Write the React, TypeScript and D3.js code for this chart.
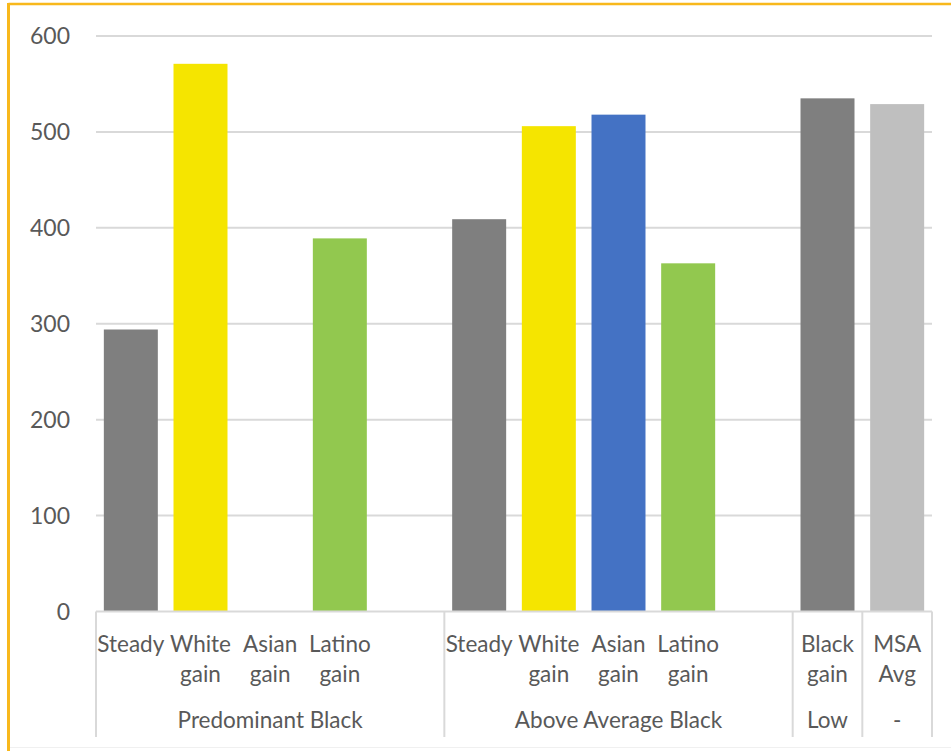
import React from "react";
import * as d3 from "d3";

const slots = ["PB-Steady", "PB-White", "PB-Asian", "PB-Latino", "PB-blank", "AAB-Steady", "AAB-White", "AAB-Asian", "AAB-Latino", "AAB-blank", "Low-Black", "MSA-Avg"];
const slotLabels: string[][] = [["Steady"], ["White", "gain"], ["Asian", "gain"], ["Latino", "gain"], [], ["Steady"], ["White", "gain"], ["Asian", "gain"], ["Latino", "gain"], [], ["Black", "gain"], ["MSA", "Avg"]];
const values: (number | null)[] = [294, 571, null, 389, null, 409, 506, 518, 363, null, 535, 529];
const barColors = ["#7f7f7f", "#f5e500", "#4472c4", "#92c84f", "#ffffff", "#7f7f7f", "#f5e500", "#4472c4", "#92c84f", "#ffffff", "#7f7f7f", "#bfbfbf"];
const groups = ["Predominant Black", "Above Average Black", "Low", "-"];
const groupSizes = [5, 5, 1, 1];
const yTicks = [0, 100, 200, 300, 400, 500, 600];

const W = 951, H = 751;
const x0 = 96, x1 = 932;
const yZero = 611.5, yTop = 36;
const FONT = "Lato, 'Open Sans', sans-serif";
const TEXT = "#595959";

export default function App() {
  const x = d3.scaleBand<string>().domain(slots).range([x0, x1]).paddingInner(0.225).paddingOuter(0.1125);
  const step = x.step();
  const y = d3.scaleLinear().domain([0, 600]).range([yZero, yTop]);

  const bounds: number[] = [x0];
  let acc = 0;
  groupSizes.forEach((g) => { acc += g; bounds.push(x0 + acc * step); });

  return (
    <svg width={W} height={H} style={{ position: "absolute", left: 0, top: 0, background: "#fff" }} fontFamily={FONT}>
      <rect x={0} y={0} width={W} height={H} fill="#fff" />
      <line x1={8.5} y1={4} x2={W} y2={4} stroke="#f8b81c" strokeWidth={2.5} />
      <line x1={8.5} y1={3} x2={8.5} y2={H} stroke="#f8b81c" strokeWidth={3} />
      <line x1={10} y1={747.5} x2={W} y2={747.5} stroke="#f0f0f0" strokeWidth={1} />
      {yTicks.map((t) => (
        <g key={t}>
          {t > 0 && <line x1={x0} x2={x1} y1={y(t)} y2={y(t)} stroke="#d9d9d9" strokeWidth={2} />}
          <text x={70} y={y(t)} dy="0.35em" textAnchor="end" fontSize={23} fill={TEXT}>{t}</text>
        </g>
      ))}
      {slots.map((s, i) => {
        const v = values[i];
        if (v == null) return null;
        return <rect key={s} x={x(s)} y={y(v)} width={x.bandwidth()} height={yZero - y(v)} fill={barColors[i]} />;
      })}
      <line x1={x0} x2={x1} y1={yZero} y2={yZero} stroke="#d9d9d9" strokeWidth={2} />
      {bounds.map((b, i) => (
        <line key={i} x1={b} x2={b} y1={yZero} y2={737} stroke="#d9d9d9" strokeWidth={2} />
      ))}
      {slots.map((s, i) => (
        <text key={s} x={(x(s) as number) + x.bandwidth() / 2} textAnchor="middle" fontSize={22.5} fill={TEXT}>
          {slotLabels[i].map((l, j) => (
            <tspan key={j} x={(x(s) as number) + x.bandwidth() / 2} y={652 + j * 29.5}>{l}</tspan>
          ))}
        </text>
      ))}
      {groups.map((g, i) => (
        <text key={g} x={(bounds[i] + bounds[i + 1]) / 2} y={728} textAnchor="middle" fontSize={22.5} fill={TEXT}>{g}</text>
      ))}
    </svg>
  );
}
